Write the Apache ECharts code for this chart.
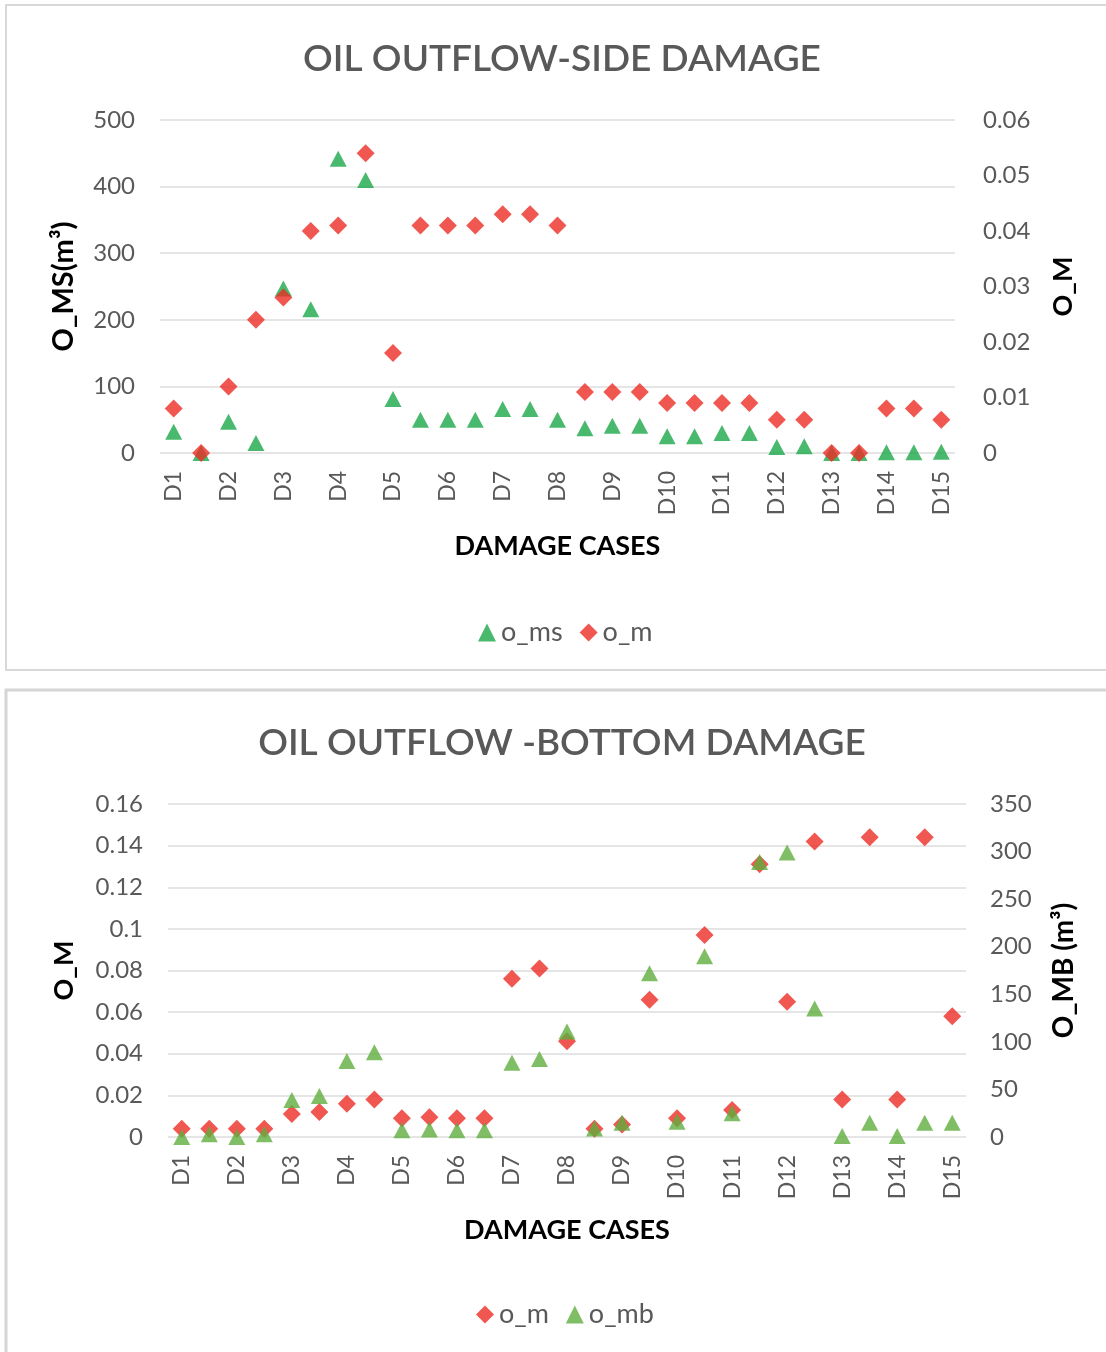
<!DOCTYPE html>
<html>
<head>
<meta charset="utf-8">
<script src="https://cdn.jsdelivr.net/npm/echarts@6/dist/echarts.min.js"></script>
<style>
  html, body { margin: 0; padding: 0; background: #ffffff; }
  #chart { width: 1106px; height: 1352px; }
</style>
</head>
<body>
<div id="chart"></div>
<script>
// ---- data ----
const cases = ['D1','D2','D3','D4','D5','D6','D7','D8','D9','D10','D11','D12','D13','D14','D15'];

// Side damage chart
const sideOms = [32, 0, 47, 15, 247, 216, 442, 410, 81, 50, 50, 50, 66, 66, 50, 37, 41, 41, 25, 25, 30, 30, 9, 10, 0, 0, 1, 1, 2];
const sideOm = [0.008, 0, 0.012, 0.024, 0.028, 0.040, 0.041, 0.054, 0.018, 0.041, 0.041, 0.041, 0.043, 0.043, 0.041, 0.011, 0.011, 0.011, 0.009, 0.009, 0.009, 0.009, 0.006, 0.006, 0, 0, 0.008, 0.008, 0.006];

// Bottom damage chart
const bottomOm = [0.004, 0.004, 0.004, 0.004, 0.011, 0.012, 0.016, 0.018, 0.009, 0.0095, 0.009, 0.009, 0.076, 0.081, 0.046, 0.004, 0.006, 0.066, 0.009, 0.097, 0.013, 0.131, 0.065, 0.142, 0.018, 0.144, 0.018, 0.144, 0.058];
const bottomOmb = [0, 3, 0, 3, 39, 43, 80, 89, 7, 8, 7, 7, 78, 82, 111, 9, 15, 172, 16, 190, 25, 289, 299, 135, 1, 15, 1, 15, 15];

// categories: each case followed by an unlabeled intermediate case
const categories = [];
cases.forEach((c, i) => { categories.push(c); if (i < cases.length - 1) categories.push(''); });

// ---- styling ----
const FONT = 'Lato';
const GRAY = '#595959';
const RED = '#ec2d26';
const GREEN_TOP = '#1ca84a';
const GREEN_BOT = '#5fae3f';
const GRID_COLOR = '#dcdcdc';

const tickLabel = { fontFamily: FONT, fontSize: 24, color: GRAY };
const nameStyle = { fontFamily: FONT, fontSize: 27, fontWeight: 'bold', color: '#000' };

function xAxisFor(gridIndex) {
  return {
    type: 'category', gridIndex: gridIndex, data: categories, boundaryGap: true,
    axisLine: { show: false }, axisTick: { show: false },
    axisLabel: Object.assign({ rotate: 90, interval: 0, margin: 18 }, tickLabel, { fontSize: 23 }),
    name: 'DAMAGE CASES', nameLocation: 'middle', nameGap: 80,
    nameTextStyle: Object.assign({}, nameStyle, { fontSize: 27 })
  };
}

const chart = echarts.init(document.getElementById('chart'), null, { renderer: 'canvas' });

chart.setOption({
  backgroundColor: '#ffffff',
  animation: false,
  graphic: [
    { type: 'rect', shape: { x: 6, y: 5, width: 1110, height: 665 }, style: { fill: 'none', stroke: '#d9d9d9', lineWidth: 2 }, silent: true },
    { type: 'rect', shape: { x: 6, y: 690, width: 1110, height: 700 }, style: { fill: 'none', stroke: '#d6d6d6', lineWidth: 3 }, silent: true }
  ],
  title: [
    { text: 'OIL OUTFLOW-SIDE DAMAGE', left: 557, textAlign: 'center', top: 36,
      textStyle: { fontFamily: FONT, fontSize: 37, fontWeight: 600, color: GRAY } },
    { text: 'OIL OUTFLOW -BOTTOM DAMAGE', left: 557, textAlign: 'center', top: 720,
      textStyle: { fontFamily: FONT, fontSize: 37, fontWeight: 600, color: GRAY } }
  ],
  legend: [
    { data: [{ name: 'o_ms', icon: 'triangle' }, { name: 'o_m', icon: 'diamond' }],
      left: 473, top: 614, itemWidth: 18, itemHeight: 18, itemGap: 17,
      textStyle: { fontFamily: FONT, fontSize: 27, color: GRAY } },
    { data: [{ name: 'o_m ', icon: 'diamond' }, { name: 'o_mb', icon: 'triangle' }],
      left: 471, top: 1296, itemWidth: 18, itemHeight: 18, itemGap: 10,
      textStyle: { fontFamily: FONT, fontSize: 27, color: GRAY } }
  ],
  grid: [
    { left: 160, width: 795, top: 120, height: 333 },
    { left: 168, width: 798, top: 804, height: 333 }
  ],
  xAxis: [xAxisFor(0), xAxisFor(1)],
  yAxis: [
    { type: 'value', gridIndex: 0, position: 'left', min: 0, max: 500, interval: 100,
      axisLine: { show: false }, axisTick: { show: false },
      axisLabel: Object.assign({ margin: 25 }, tickLabel),
      splitLine: { lineStyle: { color: GRID_COLOR, width: 1.5 } },
      name: 'O_MS(m³)', nameLocation: 'middle', nameRotate: 90, nameGap: 82, nameTextStyle: Object.assign({}, nameStyle, { fontSize: 29 }) },
    { type: 'value', gridIndex: 0, position: 'right', min: 0, max: 0.06, interval: 0.01,
      axisLine: { show: false }, axisTick: { show: false },
      axisLabel: Object.assign({ margin: 28 }, tickLabel),
      splitLine: { show: false },
      name: 'O_M', nameLocation: 'middle', nameRotate: 90, nameGap: 95, nameTextStyle: nameStyle },
    { type: 'value', gridIndex: 1, position: 'left', min: 0, max: 0.16, interval: 0.02,
      axisLine: { show: false }, axisTick: { show: false },
      axisLabel: Object.assign({ margin: 25 }, tickLabel),
      splitLine: { lineStyle: { color: GRID_COLOR, width: 1.5 } },
      name: 'O_M', nameLocation: 'middle', nameRotate: 90, nameGap: 90, nameTextStyle: nameStyle },
    { type: 'value', gridIndex: 1, position: 'right', min: 0, max: 350, interval: 50,
      axisLine: { show: false }, axisTick: { show: false },
      axisLabel: Object.assign({ margin: 24 }, tickLabel),
      splitLine: { show: false },
      name: 'O_MB (m³)', nameLocation: 'middle', nameRotate: 90, nameGap: 84, nameTextStyle: Object.assign({}, nameStyle, { fontSize: 28 }) }
  ],
  series: [
    { name: 'o_ms', type: 'scatter', xAxisIndex: 0, yAxisIndex: 0, data: sideOms,
      symbol: 'triangle', symbolSize: [17, 16], itemStyle: { color: GREEN_TOP }, z: 2 },
    { name: 'o_m', type: 'scatter', xAxisIndex: 0, yAxisIndex: 1, data: sideOm,
      symbol: 'diamond', symbolSize: [18, 18], itemStyle: { color: RED }, z: 3 },
    { name: 'o_m ', type: 'scatter', xAxisIndex: 1, yAxisIndex: 2, data: bottomOm,
      symbol: 'diamond', symbolSize: [18, 18], itemStyle: { color: RED }, z: 2 },
    { name: 'o_mb', type: 'scatter', xAxisIndex: 1, yAxisIndex: 3, data: bottomOmb,
      symbol: 'triangle', symbolSize: [17, 16], itemStyle: { color: GREEN_BOT }, z: 3 }
  ]
});
</script>
</body>
</html>
